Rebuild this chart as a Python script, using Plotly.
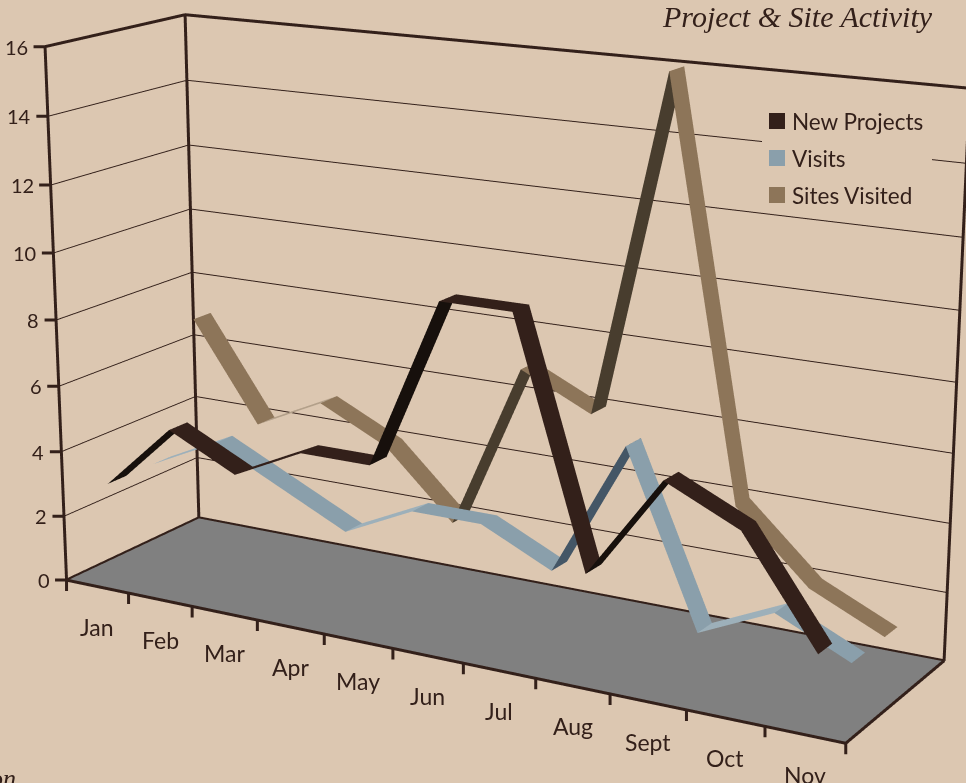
import plotly.graph_objects as go

months = ["Jan","Feb","Mar","Apr","May","Jun","Jul","Aug","Sept","Oct","Nov"]
new_projects = [3,5,4,5,5,10,10,3,6,5,2]
visits = [3,4,3,2,3,3,2,6,1,2,1]
sites_visited = [7,4,5,4,2,7,6,16,4,2,1]
z_ticks = [0,2,4,6,8,10,12,14,16]

BG="#dcc7b1"; INK="#33201a"
FW,FH=3066,2485; OX,OY=1050,851
def px(x): return (x+OX)/FW
def py(y): return 1-(y+OY)/FH

series=[("New Projects",new_projects,0.5,"#33201a","#17100c","#33201a"),
        ("Visits",visits,1.5,"#8a9fab","#445666","#9db0ba"),
        ("Sites Visited",sites_visited,2.5,"#8d7559","#483d2e","#b3a08a")]
HW=0.2
fig=go.Figure()
for name,vals,yc,base,up,lit in series:
    xs,ys,zs,I,J,K,fc=[],[],[],[],[],[],[]
    for n,v in enumerate(vals):
        xs+=[n+.5,n+.5]; ys+=[yc-HW,yc+HW]; zs+=[v,v]
    for n in range(len(vals)-1):
        a=2*n
        I+=[a,a+1];J+=[a+2,a+2];K+=[a+1,a+3]
        rise=vals[n+1]-vals[n]
        c=up if rise>=2 else (lit if rise==1 else base)
        fc+=[c,c]
    fig.add_trace(go.Mesh3d(x=xs,y=ys,z=zs,i=I,j=J,k=K,facecolor=fc,flatshading=True,name=name,
        lighting=dict(ambient=1,diffuse=0,specular=0,roughness=1,fresnel=0),hoverinfo="skip",showlegend=False))
# frame of floor and walls
fx=[0,11,11,0,0,None,0,0,None,0,0,11,11,None,0,0]
fy=[0,0,3,3,0,None,0,0,None,3,3,3,3,None,0,3]
fz=[0,0,0,0,0,None,0,16,None,0,16,16,0,None,16,16]
fig.add_trace(go.Scatter3d(x=fx,y=fy,z=fz,mode="lines",line=dict(color=INK,width=6),hoverinfo="skip",showlegend=False))

def ann(x,y,text,size,anchor="left",**kw):
    return dict(x=px(x),y=py(y),xref="paper",yref="paper",text=text,showarrow=False,xanchor=anchor,yanchor="middle",
                font=dict(size=size,color=INK,**kw))
shapes=[dict(type="rect",xref="paper",yref="paper",x0=px(762),x1=px(932),y0=py(100),y1=py(205),fillcolor=BG,line_width=0,layer="above")]
annots=[ann(660,16,"<i>Project &amp; Site Activity</i>",30,family="Liberation Serif"),
        ann(18,778,"<i>on</i>",26,"right",family="Liberation Serif")]
for k,(name,vals,yc,base,up,lit) in enumerate(series):
    yy=121+37*k
    shapes.append(dict(type="rect",xref="paper",yref="paper",x0=px(769),x1=px(785),y0=py(yy-8),y1=py(yy+8),fillcolor=base,line_width=0,layer="above"))
    annots.append(ann(790,yy,name,22.5))

tick=dict(showarrow=True,arrowhead=0,arrowwidth=3,arrowcolor=INK,standoff=0,text=" ",font=dict(size=1))
scene_ann=[dict(x=n+.5,y=0,z=0,text=m,showarrow=False,yshift=-40,font=dict(size=23,color=INK,family="Lato")) for n,m in enumerate(months)]
scene_ann+=[dict(x=v,y=0,z=0,ax=0,ay=13,**tick) for v in range(12)]
scene_ann+=[dict(x=0,y=0,z=v,ax=-13,ay=0,**tick) for v in z_ticks]
scene_ann+=[dict(x=0,y=0,z=v,text=str(v),showarrow=False,xanchor="right",xshift=-15,font=dict(size=20,color=INK,family="Lato")) for v in z_ticks]

fig.update_layout(width=FW,height=FH,margin=dict(l=0,r=0,t=0,b=0,pad=0),paper_bgcolor=BG,plot_bgcolor=BG,
    font=dict(family="Lato",color=INK),showlegend=False,shapes=shapes,annotations=annots,
    scene=dict(domain=dict(x=[0,1],y=[0,1]),bgcolor=BG,aspectmode="manual",aspectratio=dict(x=1,y=.271,z=.637),
        camera=dict(eye=dict(x=1.608,y=-2.798,z=.872),center=dict(x=.01,y=-.031,z=-.039),up=dict(x=0,y=0,z=1),projection=dict(type="perspective")),
        xaxis=dict(range=[0,11],showticklabels=False,ticks="",title="",showgrid=False,zeroline=False,showbackground=False,showline=False,showspikes=False),
        yaxis=dict(range=[0,3],showticklabels=False,ticks="",title="",showgrid=False,zeroline=False,showbackground=False,showline=False,showspikes=False),
        zaxis=dict(range=[0,16],tickvals=z_ticks,showticklabels=False,ticks="",title="",showgrid=True,gridcolor=INK,gridwidth=2,zeroline=False,showbackground=True,backgroundcolor="#808080",showline=False,showspikes=False),
        annotations=scene_ann,
    ))
post=f"""var g=document.querySelector('.plotly-graph-div');g.style.position='absolute';g.style.left='-{OX}px';g.style.top='-{OY}px';
document.body.style.margin='0';document.body.style.overflow='hidden';document.documentElement.style.overflow='hidden';"""
fig.write_html("out.html",post_script=post)
